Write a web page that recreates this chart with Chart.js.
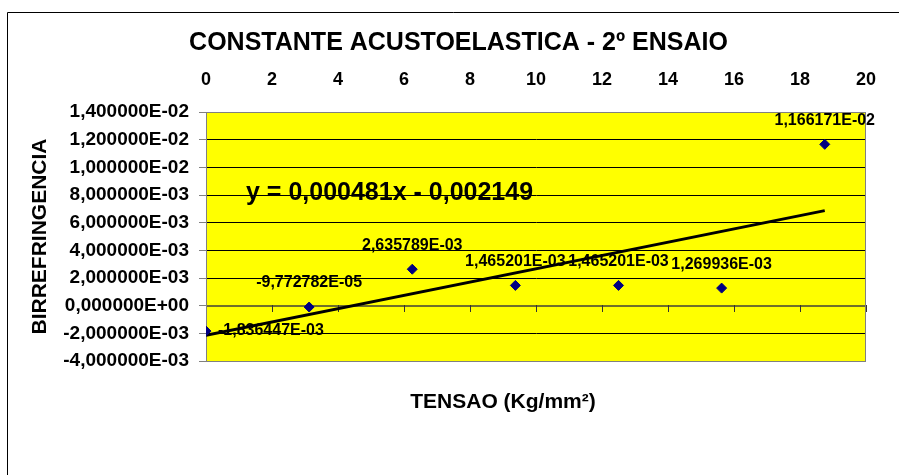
<!DOCTYPE html>
<html>
<head>
<meta charset="utf-8">
<script src="https://cdn.jsdelivr.net/npm/chart.js@4"></script>
<style>
  html, body { margin: 0; padding: 0; background: #fff; }
  #wrap { width: 899px; height: 475px; }
</style>
</head>
<body>
<div id="wrap"><canvas id="chart" width="899" height="475"></canvas></div>
<script>
const tensao = [0, 3.125, 6.25, 9.375, 12.5, 15.625, 18.75];
const birref = [-0.001836447, -0.00009772782, 0.002635789, 0.001465201, 0.001465201, 0.001269936, 0.01166171];
const pointLabels = ["-1,836447E-03", "-9,772782E-05", "2,635789E-03", "1,465201E-03", "1,465201E-03", "1,269936E-03", "1,166171E-02"];
const trendX = [0, 18.75];
const trendY = [-0.002149, 0.006870];
const equation = "y = 0,000481x - 0,002149";
const chartTitle = "CONSTANTE ACUSTOELASTICA - 2º ENSAIO";
const xTitle = "TENSAO (Kg/mm²)";
const yTitle = "BIRREFRINGENCIA";

const FONT = "'Liberation Sans', Arial, sans-serif";

function fmtSci(v) {
  const parts = v.toExponential(6).split("e");
  const exp = parseInt(parts[1], 10);
  const sign = exp < 0 ? "-" : "+";
  return parts[0].replace(".", ",") + "E" + sign + String(Math.abs(exp)).padStart(2, "0");
}

// yellow plot area, zero axis line and border
const plotArea = {
  id: "plotArea",
  beforeDraw(chart) {
    const { ctx, chartArea: a } = chart;
    ctx.save();
    ctx.fillStyle = "#ffff00";
    ctx.fillRect(a.left, a.top, a.right - a.left, a.bottom - a.top);
    ctx.restore();
  },
  beforeDatasetsDraw(chart) {
    const { ctx, chartArea: a, scales } = chart;
    const y0 = Math.round(scales.y.getPixelForValue(0));
    ctx.save();
    ctx.strokeStyle = "#6f6f2a";
    ctx.lineWidth = 2;
    ctx.beginPath();
    ctx.moveTo(a.left, y0);
    ctx.lineTo(a.right, y0);
    ctx.stroke();
    ctx.lineWidth = 1;
    ctx.strokeStyle = "#333";
    scales.x.ticks.forEach(t => {
      const px = Math.round(scales.x.getPixelForValue(t.value)) + 0.5;
      ctx.beginPath();
      ctx.moveTo(px, y0 - 1);
      ctx.lineTo(px, y0 + 6);
      ctx.stroke();
    });
    ctx.strokeStyle = "#808080";
    ctx.strokeRect(a.left + 0.5, a.top + 0.5, a.right - a.left - 1, a.bottom - a.top);
    ctx.restore();
  },
  afterDatasetsDraw(chart) {
    const { ctx, chartArea: a, scales } = chart;
    ctx.save();
    ctx.fillStyle = "#000";
    ctx.font = "bold 16px " + FONT;
    ctx.textBaseline = "middle";
    tensao.forEach((x, i) => {
      const px = scales.x.getPixelForValue(x);
      const py = scales.y.getPixelForValue(birref[i]);
      if (i === 0) {
        ctx.textAlign = "left";
        ctx.fillText(pointLabels[i], px + 12, py);
      } else {
        ctx.textAlign = "center";
        ctx.fillText(pointLabels[i], px, py - 24);
      }
    });
    ctx.font = "bold 25px " + FONT;
    ctx.textAlign = "left";
    ctx.textBaseline = "alphabetic";
    ctx.fillText(equation, a.left + 40, a.top + 88);
    ctx.restore();
  },
  afterDraw(chart) {
    const { ctx, chartArea: a } = chart;
    ctx.save();
    ctx.fillStyle = "#000";
    ctx.textAlign = "center";
    ctx.textBaseline = "middle";
    ctx.font = "bold 25px " + FONT;
    ctx.fillText(chartTitle, 458.5, 43);
    ctx.font = "bold 21px " + FONT;
    ctx.fillText(xTitle, (a.left + a.right) / 2 - 33, a.bottom + 41);
    ctx.strokeStyle = "#000";
    ctx.lineWidth = 1;
    ctx.beginPath();
    ctx.moveTo(7.5, 475);
    ctx.lineTo(7.5, 12.5);
    ctx.lineTo(899, 12.5);
    ctx.stroke();
    ctx.restore();
  }
};

const ctx = document.getElementById("chart").getContext("2d");

new Chart(ctx, {
  type: "scatter",
  data: {
    datasets: [
      {
        label: "Birrefringencia",
        data: tensao.map((x, i) => ({ x: x, y: birref[i] })),
        pointStyle: "rectRot",
        pointRadius: 5,
        backgroundColor: "#000080",
        borderColor: "#000080",
        order: 1,
      },
      {
        type: "line",
        label: "Linear",
        data: trendX.map((x, i) => ({ x: x, y: trendY[i] })),
        borderColor: "#000",
        borderWidth: 3,
        pointRadius: 0,
        fill: false,
        order: 2,
      },
    ],
  },
  options: {
    responsive: false,
    animation: false,
    layout: { padding: { left: 28, top: 57, right: 33, bottom: 114 } },
    scales: {
      x: {
        type: "linear",
        position: "top",
        min: 0,
        max: 20,
        afterFit: (s) => { s.height = 55; },
        ticks: {
          stepSize: 2,
          color: "#000",
          padding: 21,
          font: { family: FONT, size: 18, weight: "bold" },
        },
        grid: { display: false, drawTicks: false },
        border: { display: false },
      },
      y: {
        min: -0.004,
        max: 0.014,
        afterFit: (s) => { s.width = 178; },
        ticks: {
          stepSize: 0.002,
          color: "#000",
          padding: 10,
          font: { family: FONT, size: 19, weight: "bold" },
          callback: (v) => fmtSci(v),
        },
        grid: {
          color: (c) => (c.tick && (Math.abs(c.tick.value - 0.014) < 1e-9 || Math.abs(c.tick.value + 0.004) < 1e-9)) ? "#808080" : "#000",
          tickColor: "#808080",
          tickLength: 7,
          lineWidth: 1,
        },
        border: { color: "#808080" },
        title: {
          display: true,
          text: yTitle,
          color: "#000",
          padding: 0,
          font: { family: FONT, size: 21, weight: "bold" },
        },
      },
    },
    plugins: {
      legend: { display: false },
      tooltip: { enabled: false },
    },
  },
  plugins: [plotArea],
});
</script>
</body>
</html>
